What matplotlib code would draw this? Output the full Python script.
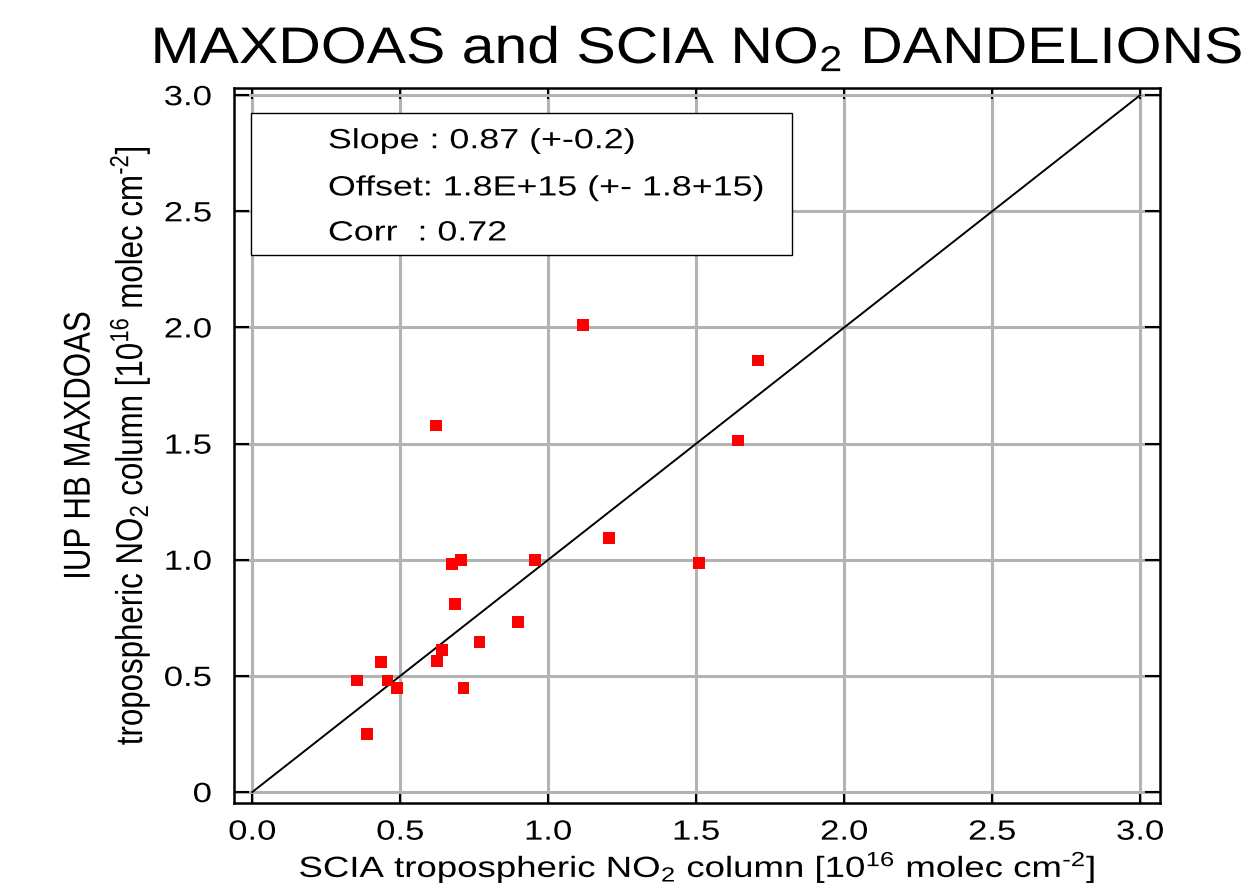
import matplotlib
matplotlib.use("Agg")
import matplotlib.pyplot as plt
from matplotlib.patches import Rectangle
from matplotlib.patheffects import AbstractPathEffect
from matplotlib.transforms import Affine2D

plt.rcParams['font.family'] = ['Liberation Sans', 'DejaVu Sans']
plt.rcParams['mathtext.fontset'] = 'custom'
plt.rcParams['mathtext.rm'] = 'Liberation Sans'
plt.rcParams['mathtext.it'] = 'Liberation Sans'

# SCIA (x) vs MAXDOAS (y), units 1e16 molec cm-2
scia = [1.117, 1.708, 1.641, 0.621, 1.205, 1.509, 0.954, 0.704, 0.674, 0.685,
        0.897, 0.768, 0.641, 0.623, 0.434, 0.353, 0.457, 0.488, 0.714, 0.388]
maxdoas = [2.009, 1.858, 1.513, 1.578, 1.095, 0.987, 1.000, 1.000, 0.981, 0.809,
           0.731, 0.645, 0.611, 0.565, 0.559, 0.480, 0.480, 0.447, 0.447, 0.249]

ticks = [0.0, 0.5, 1.0, 1.5, 2.0, 2.5, 3.0]
xtick_labels = ['0.0', '0.5', '1.0', '1.5', '2.0', '2.5', '3.0']
ytick_labels = ['0', '0.5', '1.0', '1.5', '2.0', '2.5', '3.0']

stats = ['Slope : 0.87 (+-0.2)',
         'Offset: 1.8E+15 (+- 1.8+15)',
         'Corr  : 0.72']

unit = r'[10$^{16}$ molec cm$^{\text{-}2}$]'


class Stretch(AbstractPathEffect):
    # the original picture has wide glyphs, so stretch the text paths a bit
    def __init__(self, sx=1.0, sy=1.0, anchor='center'):
        super().__init__()
        self.sx, self.sy, self.anchor = sx, sy, anchor

    def draw_path(self, renderer, gc, tpath, affine, rgbFace=None):
        ext = tpath.get_extents()
        if self.anchor == 'left':
            cx = 0.0
        elif self.anchor == 'right':
            cx = ext.x1
        else:
            cx = 0.5 * (ext.x0 + ext.x1)
        pre = Affine2D().translate(-cx, 0).scale(self.sx, self.sy).translate(cx, 0)
        renderer.draw_path(gc, tpath, pre + affine, rgbFace)


fig = plt.figure(figsize=(12.51, 8.91), dpi=100)
ax = fig.add_axes([0.187, 0.0988, 0.740, 0.8022])

ax.plot([0, 3], [0, 3], color='black', lw=1.4, zorder=3)
ax.scatter(scia, maxdoas, marker='s', s=72, color='#ff0000', edgecolors='none',
           zorder=4)

ax.set_xlim(-0.062, 3.066)
ax.set_ylim(-0.047, 3.03)
ax.set_xticks(ticks)
ax.set_xticklabels(xtick_labels)
ax.set_yticks(ticks)
ax.set_yticklabels(ytick_labels)
ax.grid(True, color='#b3b3b3', lw=2.2, zorder=0)
ax.set_axisbelow(True)

ax.tick_params(direction='in', width=1.5, top=True, right=True,
               labelsize=20, color='black')
ax.tick_params(axis='x', length=8, pad=12)
ax.tick_params(axis='y', length=10.5, pad=16)
for sp in ax.spines.values():
    sp.set_linewidth(1.8)
for lbl in ax.get_xticklabels():
    lbl.set_path_effects([Stretch(sx=1.25)])
for lbl in ax.get_yticklabels():
    lbl.set_path_effects([Stretch(sx=1.25, anchor='right')])

# stats box
ax.add_patch(Rectangle((0.0184, 0.766), 0.584, 0.199, transform=ax.transAxes,
                       facecolor='white', edgecolor='black', lw=1.0, zorder=5))
for i, (s, yy) in enumerate(zip(stats, [0.916, 0.850, 0.787])):
    ax.text(0.1015, yy, s, transform=ax.transAxes, fontsize=20,
            va='baseline', ha='left', zorder=6,
            path_effects=[Stretch(sx=1.29, anchor='left')])

fig.text(0.557, 0.929, 'MAXDOAS and SCIA NO$_2$ DANDELIONS', fontsize=37,
         ha='center', va='baseline', path_effects=[Stretch(sx=1.147)])

ax.set_xlabel('SCIA tropospheric NO$_2$ column ' + unit, fontsize=21,
              path_effects=[Stretch(sx=1.255)])
ax.xaxis.label.set_va('baseline')
ax.xaxis.set_label_coords(0.5, -0.1035)

ax.set_ylabel('IUP HB MAXDOAS\ntropospheric NO$_2$ column ' + unit,
              fontsize=22.5, linespacing=1.55,
              path_effects=[Stretch(sy=1.2)])
ax.yaxis.label.set_va('baseline')
ax.yaxis.set_label_coords(-0.1166, 0.5)

fig.savefig('out.png', dpi=100, facecolor='white')
